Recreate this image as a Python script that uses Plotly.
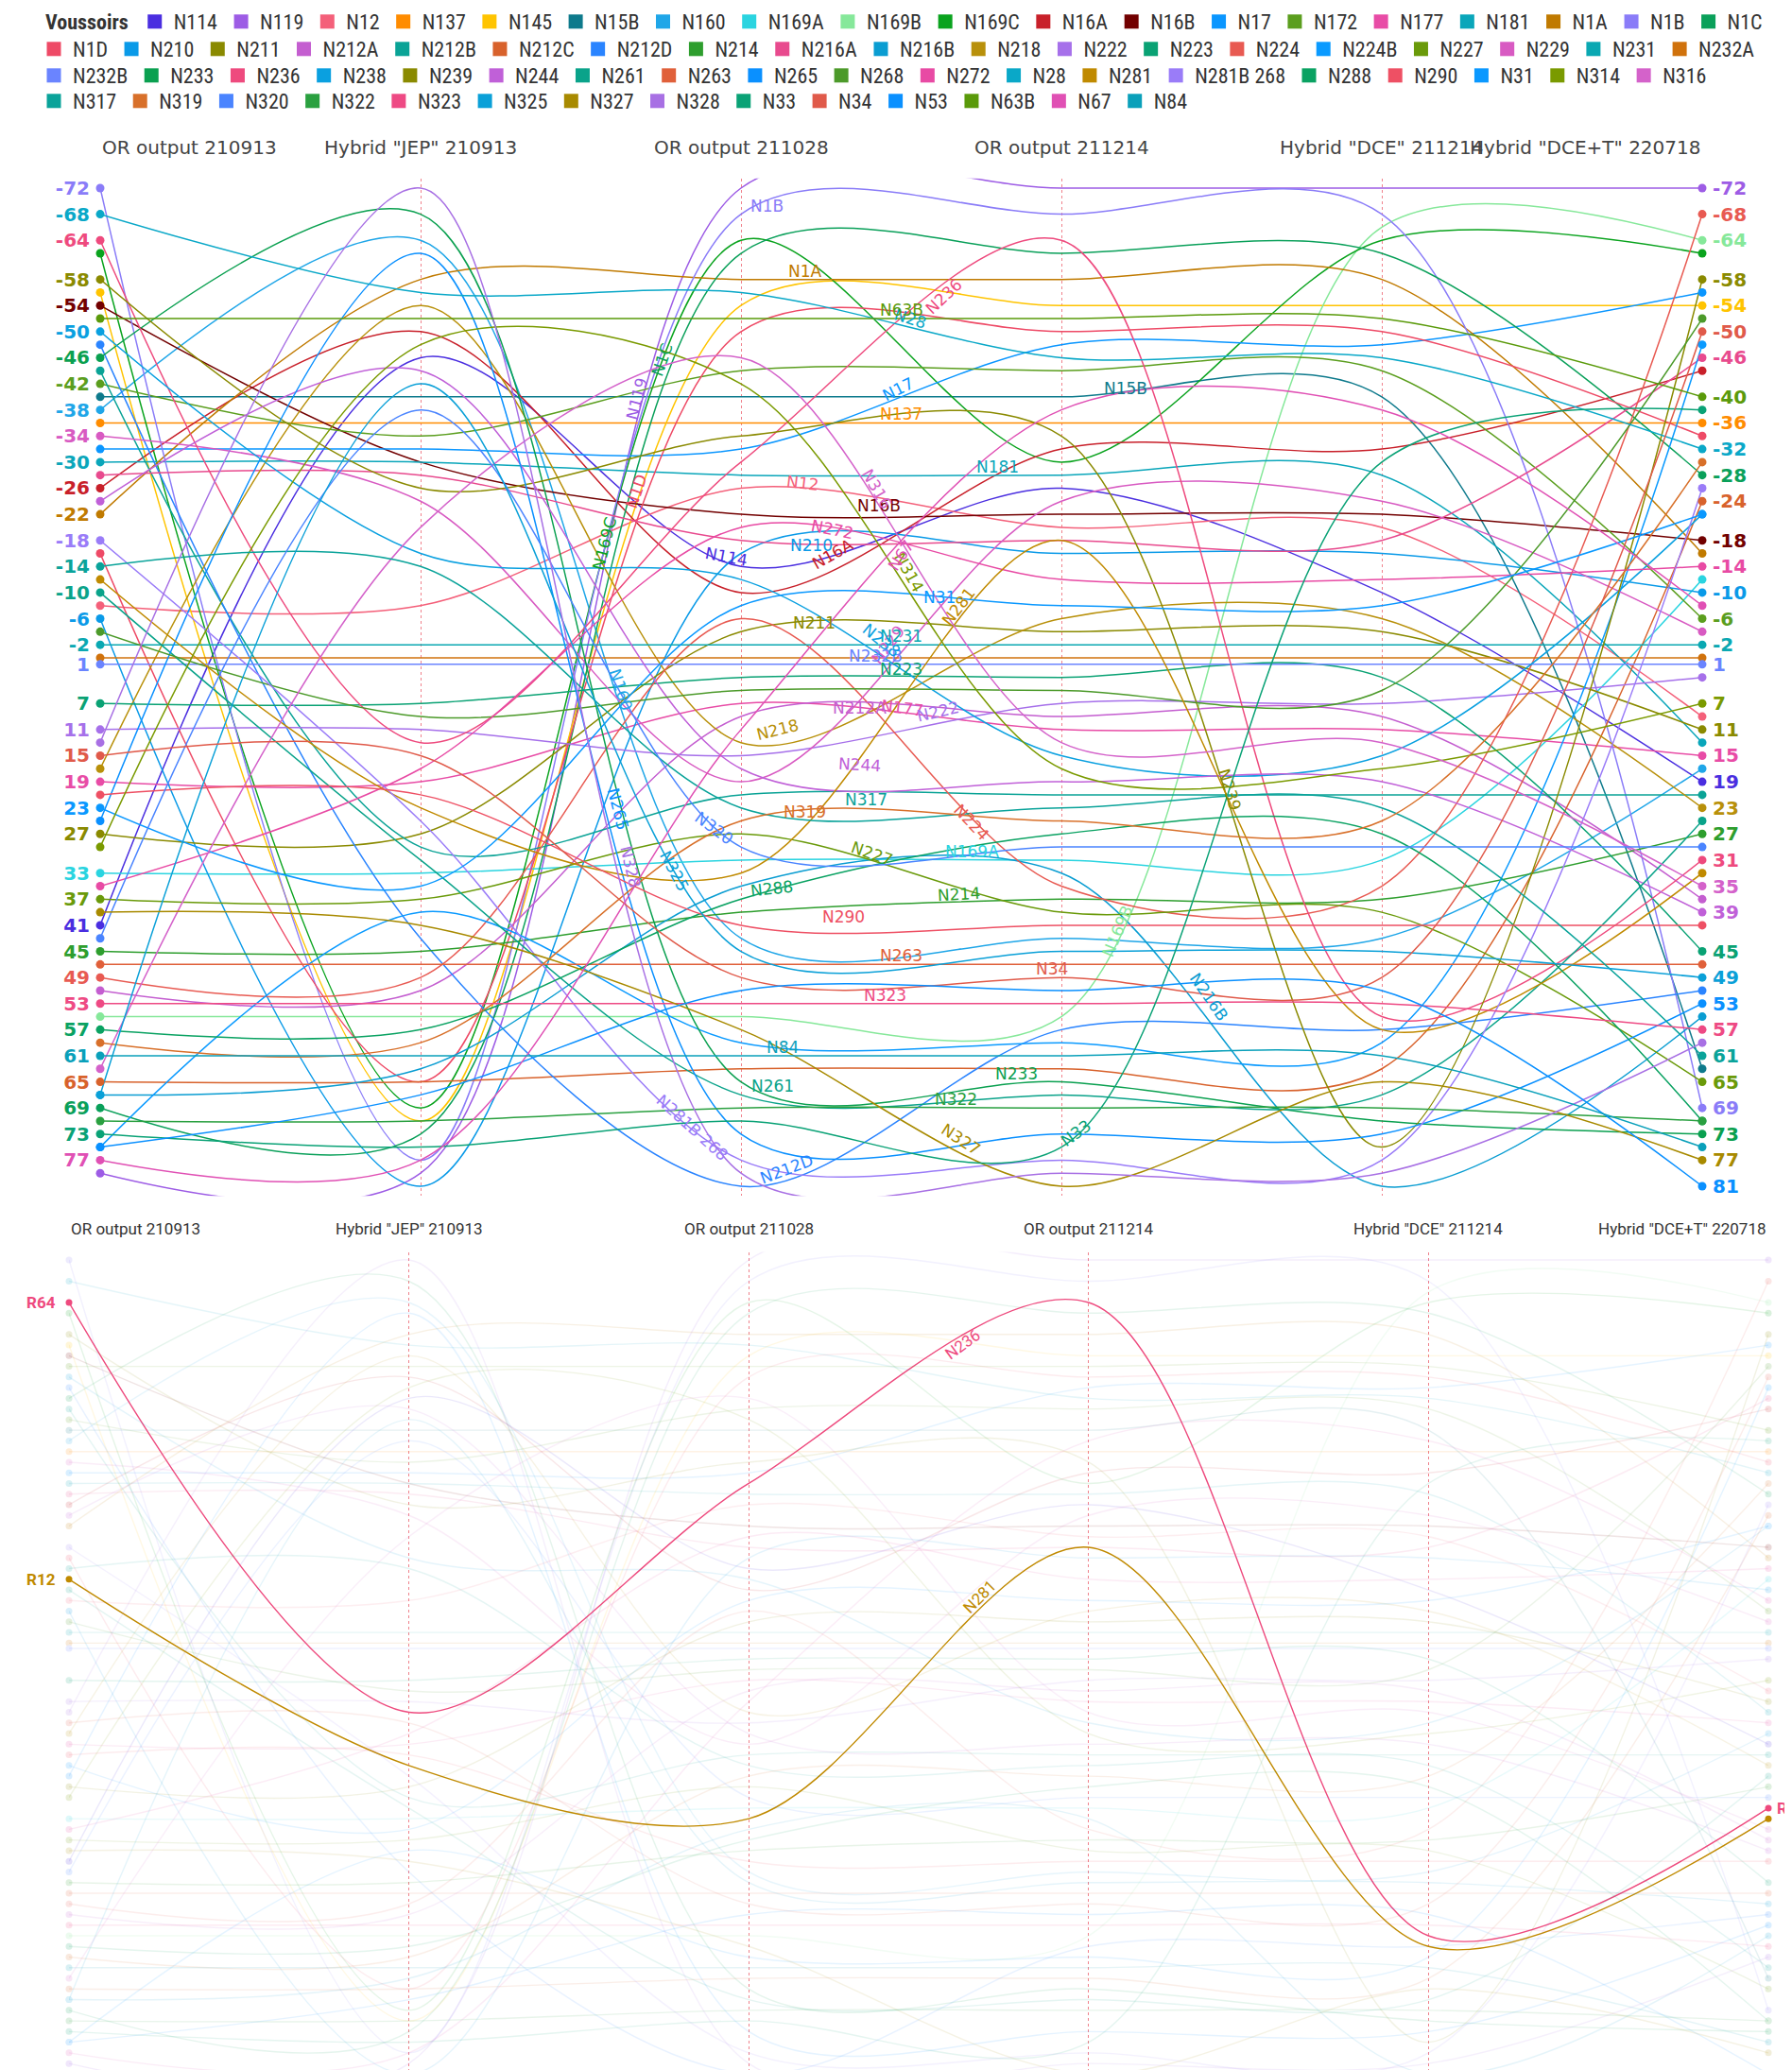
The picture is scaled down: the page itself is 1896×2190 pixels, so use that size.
import math
import plotly.graph_objects as go

W, H = 1896, 2190
OFF = 8  # the page body margin shifts the figure by this many pixels

STAGES = ["OR output 210913", 'Hybrid "JEP" 210913', "OR output 211028",
          "OR output 211214", 'Hybrid "DCE" 211214', 'Hybrid "DCE+T" 220718']

NAMES = ["N114", "N119", "N12", "N137", "N145", "N15B", "N160", "N169A", "N169B", "N169C",
         "N16A", "N16B", "N17", "N172", "N177", "N181", "N1A", "N1B", "N1C", "N1D",
         "N210", "N211", "N212A", "N212B", "N212C", "N212D", "N214", "N216A", "N216B", "N218",
         "N222", "N223", "N224", "N224B", "N227", "N229", "N231", "N232A", "N232B", "N233",
         "N236", "N238", "N239", "N244", "N261", "N263", "N265", "N268", "N272", "N28",
         "N281", "N281B 268", "N288", "N290", "N31", "N314", "N316", "N317", "N319", "N320",
         "N322", "N323", "N325", "N327", "N328", "N33", "N34", "N53", "N63B", "N67", "N84"]

COLORS = ["#4a2ee0", "#9d5ce5", "#f4607a", "#ff8c00", "#ffc400", "#0e7a8c", "#1fa6e8", "#2ad4e0", "#86e89a", "#0aa31e",
          "#c8202a", "#720000", "#0a96ff", "#5b9e1e", "#e84ca6", "#0aa6ba", "#c07a00", "#8a7cf8", "#0aa05a", "#ee4a66",
          "#0a9ae8", "#8a8a00", "#c45ed0", "#0aa396", "#d8622c", "#2a84ff", "#2e9e2e", "#e84a8e", "#0a9dd2", "#b8900a",
          "#a670ea", "#0aa274", "#e85a52", "#0a9aff", "#6a9a0a", "#d85ac2", "#0aa8b2", "#d0720c", "#6a84ff", "#0aa050",
          "#ee4a7e", "#0aa0e0", "#8a8a00", "#c060d8", "#0aa38a", "#e0603a", "#0a90ff", "#4c9a2a", "#e84aa4", "#0aa8c8",
          "#c08a00", "#9a7cf8", "#0aa262", "#ee5064", "#0a98ff", "#7a9a00", "#d462ca", "#0aa39a", "#d8702a", "#4a84ff",
          "#2aa040", "#ee4a84", "#0aa0d8", "#a88a00", "#a870e4", "#0aa276", "#e05a4a", "#0a90ff", "#5a9a0a", "#e050b4",
          "#0aa0ba"]

# voussoir position at each stage, same order as NAMES
OR_210913 = [41, 79, -8, -36, -56, -40, -38, 33, 55, -62,
             -26, -54, -32, -42, 19, -30, -22, -72, 69, -16,
             -6, 27, 51, -44, 65, -48, 45, -28, 67, 17,
             11, 7, 49, 75, 37, -34, -2, 0, 1, -46,
             -64, -50, -58, -24, -10, 47, 25, -4, 35, -68,
             -12, -18, 57, 21, 23, 29, 63, -14, 59, 43,
             71, 53, 67, 39, 13, 73, 15, 75, -52, 77,
             61]
JEP_210913 = [-46, 79, -8, -36, 71, -40, -64, 33, 55, 69,
              -50, -30, -32, -34, 19, -30, -58, 77, 73, 65,
              81, 27, 51, 29, 65, 43, 45, -28, 63, -54,
              11, 7, 49, 39, 37, -24, -2, 0, 1, -68,
              13, -16, -26, -44, 31, 47, -62, 9, 17, -56,
              23, 25, 57, 21, 35, -48, -20, -14, 59, -38,
              71, 53, -42, 41, -72, 75, 15, 67, -52, 77,
              61]
OR_211028 = [-14, -72, -26, -36, -54, -40, 43, 31, 55, -64,
             -10, -22, -32, -44, 7, -28, -58, -68, -62, -50,
             -16, -4, 9, 21, 63, 81, 39, -18, 35, 13,
             15, 3, -6, 59, 27, 19, -2, 0, 1, 65,
             -30, -12, -34, 17, 67, 47, 73, 5, -20, -56,
             33, 77, 37, 41, -8, -42, -46, 23, 25, 29,
             69, 53, 45, 57, 79, 71, 49, 51, -52, 11,
             61]
OR_211214 = [-26, -72, -20, -36, -54, -40, 43, 31, 55, -30,
             -32, -22, -48, -44, 11, -28, -58, -68, -62, -50,
             -16, -4, 9, 21, 63, 57, 37, -18, 33, -6,
             7, 3, 35, 59, 39, -24, -2, 0, 1, 65,
             -64, 15, -34, 19, 67, 47, 73, 5, -12, -46,
             -18, 77, 27, 41, -8, 17, 13, 23, 25, 29,
             69, 53, 45, 81, 79, 75, 49, 51, -52, -38,
             61]
DCE_211214 = [-10, -72, -20, -36, -54, -40, 43, 31, -66, -64,
              -32, -22, -48, -44, 11, -28, -58, -68, -62, -50,
              -16, -4, 9, 21, 63, 57, 37, -18, 81, -6,
              7, 3, 35, 59, 39, -24, -2, 0, 1, 71,
              55, 15, 75, 19, 67, 47, 73, 5, -12, -46,
              57, 77, 27, 41, -8, 17, 13, 23, 25, 29,
              69, 53, 45, 65, 79, -30, 49, 51, -52, -38,
              61]
DCET_220718 = [19, -72, 9, -36, -54, 63, 17, -12, -64, -62,
               -44, -18, -56, -6, 15, 13, -16, 69, -28, -34,
               -10, 11, 37, 21, -24, 51, 27, -46, 55, 23,
               3, 45, -68, -48, 65, -4, -2, 0, 1, 73,
               31, -22, -58, 39, 25, 47, 53, -52, -14, -32,
               33, -26, 71, 41, -22, 7, 35, 61, -30, 29,
               71, 57, 49, 77, 59, -38, -50, 81, -40, -8,
               75]

SERIES = [OR_210913, JEP_210913, OR_211028, OR_211214, DCE_211214, DCET_220718]
HIGHLIGHT = ["N236", "N281"]

# legend rows as laid out in the reference (count of entries per row)
LEGEND_ROWS = [19, 19, 19, 14]

# where each in-chart label sits: (segment start stage, fraction along segment)
LABEL_SPOTS = {
    "N1B": (2, 0.08), "N1A": (2, 0.2), "N236": (2, 0.65), "N63B": (2, 0.5), "N28": (2, 0.52),
    "N17": (2, 0.5), "N316": (2, 0.4), "N137": (2, 0.5), "N314": (2, 0.5), "N15B": (3, 0.2),
    "N181": (2, 0.8), "N16B": (2, 0.43), "N12": (2, 0.19), "N272": (2, 0.28), "N16A": (2, 0.3),
    "N210": (2, 0.22), "N114": (1, 0.95), "N119": (1, 0.7), "N1C": (1, 0.78), "N1D": (1, 0.7),
    "N169C": (1, 0.6), "N238": (2, 0.42), "N229": (2, 0.48), "N67": (2, 0.52), "N31": (2, 0.62),
    "N281": (2, 0.7), "N211": (2, 0.23), "N232B": (2, 0.42), "N231": (2, 0.5), "N223": (2, 0.5),
    "N224": (2, 0.7), "N218": (2, 0.12), "N212A": (2, 0.37), "N222": (2, 0.62), "N177": (2, 0.5),
    "N244": (2, 0.37), "N319": (2, 0.2), "N317": (2, 0.39), "N227": (2, 0.4), "N214": (2, 0.68),
    "N169A": (2, 0.72), "N290": (2, 0.32), "N263": (2, 0.5), "N34": (2, 0.97), "N323": (2, 0.45),
    "N288": (2, 0.1), "N84": (2, 0.13), "N261": (2, 0.1), "N322": (2, 0.67), "N327": (2, 0.67),
    "N33": (3, 0.06), "N233": (2, 0.86), "N216B": (3, 0.44), "N212D": (2, 0.15),
    "N281B 268": (1, 0.83), "N160": (1, 0.6), "N328": (1, 0.63), "N265": (1, 0.59),
    "N325": (1, 0.77), "N320": (1, 0.9), "N239": (3, 0.5), "N169B": (3, 0.2),
}

# pixel geometry of the two panels (screen pixels)
TOP_X0, TOP_X1, TOP_Y72, TOP_PXU = 106, 1801, 199, 6.902
BOT_X0, BOT_X1, BOT_Y72, BOT_PXU = 73, 1871, 1333, 5.63
PAD = 1.5

FONT = "DejaVu Sans, Verdana, sans-serif"
NARROW = "Liberation Sans Narrow, Roboto Condensed, Roboto, sans-serif"
PLAIN = "Roboto, Liberation Sans, sans-serif"
STAGE_X = list(range(len(STAGES)))


def px2paper(px):
    return (px - OFF) / W


def py2paper(py):
    return 1 - (py - OFF) / H


def values_of(i):
    return [s[i] for s in SERIES]


def along(vals, seg, t):
    a, b = vals[seg], vals[seg + 1]
    if a is None or b is None:
        return None, 0
    s = 3 * t * t - 2 * t ** 3
    return a + (b - a) * s, (b - a) * 6 * t * (1 - t)


def label_ticks(stage_vals, colors):
    pairs = sorted((v, c) for v, c in zip(stage_vals, colors) if v is not None)
    vals, texts, last = [], [], None
    for v, c in pairs:
        if last is None or v - last >= 3:
            vals.append(v)
            texts.append(f"<span style='color:{c}'>{v}</span>")
            last = v
    return vals, texts


fig = go.Figure()

# ---- top panel: all voussoirs ----
for i, name in enumerate(NAMES):
    fig.add_trace(go.Scatter(
        x=STAGE_X, y=values_of(i), mode="lines", name=name,
        line=dict(color=COLORS[i], width=1.5, shape="spline", smoothing=0.9),
        showlegend=False, hoverinfo="skip", xaxis="x", yaxis="y"))

for stage, yax in ((0, "y"), (5, "y3")):
    pts = [(SERIES[stage][i], COLORS[i]) for i in range(len(NAMES)) if SERIES[stage][i] is not None]
    fig.add_trace(go.Scatter(
        x=[stage] * len(pts), y=[p[0] for p in pts], mode="markers",
        marker=dict(color=[p[1] for p in pts], size=9), cliponaxis=False,
        showlegend=False, hoverinfo="skip", xaxis="x", yaxis=yax))

# ---- bottom panel: highlight view ----
for i, name in enumerate(NAMES):
    hot = name in HIGHLIGHT
    fig.add_trace(go.Scatter(
        x=STAGE_X, y=values_of(i), mode="lines",
        line=dict(color=COLORS[i], width=1.4, shape="spline", smoothing=0.9),
        opacity=1.0 if hot else 0.1, showlegend=False, hoverinfo="skip",
        xaxis="x2", yaxis="y2"))
for stage in (0, 5):
    for hot in (False, True):
        pts = [(SERIES[stage][i], COLORS[i]) for i in range(len(NAMES))
               if SERIES[stage][i] is not None and (NAMES[i] in HIGHLIGHT) == hot]
        fig.add_trace(go.Scatter(
            x=[stage] * len(pts), y=[p[0] for p in pts], mode="markers",
            marker=dict(color=[p[1] for p in pts], size=7), opacity=1.0 if hot else 0.15,
            cliponaxis=False, showlegend=False, hoverinfo="skip", xaxis="x2", yaxis="y2"))

# legend entries, one plotly legend per row so entries flow at their natural width
row_of = []
for r, n in enumerate(LEGEND_ROWS):
    row_of += [r] * n
for i, name in enumerate(NAMES):
    lg = "legend" if row_of[i] == 0 else f"legend{row_of[i] + 1}"
    fig.add_trace(go.Scatter(
        x=[None], y=[None], mode="markers", name=name, legend=lg,
        marker=dict(color=COLORS[i], symbol="square", size=15), showlegend=True))

annotations = []
top_col = (TOP_X1 - TOP_X0) / 5
bot_col = (BOT_X1 - BOT_X0) / 5

for i, name in enumerate(NAMES):
    if name not in LABEL_SPOTS:
        continue
    seg, t = LABEL_SPOTS[name]
    y, dv = along(values_of(i), seg, t)
    if y is None:
        continue
    ang = math.degrees(math.atan(dv * TOP_PXU / top_col))
    annotations.append(dict(
        x=seg + t, y=y, xref="x", yref="y", text=name, showarrow=False,
        textangle=ang, yshift=9 * math.cos(math.radians(ang)), xshift=9 * math.sin(math.radians(ang)),
        font=dict(family=FONT, size=17, color=COLORS[i])))
    if name in HIGHLIGHT:
        ang2 = math.degrees(math.atan(dv * BOT_PXU / bot_col))
        annotations.append(dict(
            x=seg + t - 0.02, y=y, xref="x2", yref="y2", text=name, showarrow=False,
            textangle=ang2, yshift=10, font=dict(family=PLAIN, size=17, color=COLORS[i])))

# stage titles
for k, title in enumerate(STAGES):
    anchor = "left" if k == 0 else ("right" if k == 5 else "center")
    annotations.append(dict(x=k, y=py2paper(156), xref="x", yref="paper", text=title,
                            showarrow=False, xanchor=anchor, yanchor="middle",
                            font=dict(family=FONT, size=20, color="#444")))
    annotations.append(dict(x=k, y=py2paper(1300), xref="x2", yref="paper", text=title,
                            showarrow=False, xanchor=anchor, yanchor="middle",
                            font=dict(family=PLAIN, size=17, color="#333")))

# highlight end labels on the bottom panel
for name in HIGHLIGHT:
    i = NAMES.index(name)
    first, last = SERIES[0][i], SERIES[5][i]
    annotations.append(dict(x=0, y=first, xref="x2", yref="y2", text=f"<b>R{abs(first)}</b>",
                            showarrow=False, xanchor="right", xshift=-12,
                            font=dict(family=PLAIN, size=17, color=COLORS[i])))
    if name == HIGHLIGHT[0]:
        annotations.append(dict(x=5, y=last, xref="x2", yref="y2", text=f"<b>R{abs(last)}</b>",
                                showarrow=False, xanchor="left", xshift=7,
                                font=dict(family=PLAIN, size=17, color=COLORS[i])))

left_vals, left_text = label_ticks(SERIES[0], COLORS)
right_vals, right_text = label_ticks(SERIES[5], COLORS)

top_range = [82.5, -72 - PAD]
top_dom = [py2paper(TOP_Y72 + (82.5 + 72) * TOP_PXU), py2paper(TOP_Y72 - PAD * TOP_PXU)]
bot_low = -72 + (H + OFF - BOT_Y72) / BOT_PXU
bot_range = [bot_low, -72 - PAD]
bot_dom = [0, py2paper(BOT_Y72 - PAD * BOT_PXU)]

grid = dict(range=[0, 5], tickvals=STAGE_X, showticklabels=False, showgrid=True,
            gridcolor="#f0828c", griddash="dot", gridwidth=1, zeroline=False, showline=False, ticks="")
tickfont = dict(family=FONT, size=20, weight="bold")

legend_base = dict(orientation="h", xanchor="left", yanchor="middle",
                   font=dict(family=NARROW, size=22, color="#333"), itemsizing="trace",
                   itemwidth=30, tracegroupgap=0, bgcolor="rgba(0,0,0,0)")
row_centers = [23, 52, 80, 107]
legends = {}
for r, cy in enumerate(row_centers):
    key = "legend" if r == 0 else f"legend{r + 1}"
    spec = dict(legend_base, x=px2paper(46 if r == 0 else 37), y=py2paper(cy))
    if r == 0:
        spec["title"] = dict(text="<b>Voussoirs</b>", side="left",
                             font=dict(family=NARROW, size=22, color="#333"))
    legends[key] = spec

fig.update_layout(
    width=W, height=H, margin=dict(l=0, r=0, t=0, b=0, autoexpand=False),
    paper_bgcolor="white", plot_bgcolor="white",
    xaxis=dict(domain=[px2paper(TOP_X0), px2paper(TOP_X1)], anchor="y", **grid),
    yaxis=dict(domain=top_dom, range=top_range, anchor="x", tickvals=left_vals, ticktext=left_text,
               showgrid=False, zeroline=False, ticks="", ticklabelstandoff=10, tickfont=tickfont),
    yaxis3=dict(overlaying="y", side="right", anchor="x", range=top_range, tickvals=right_vals,
                ticktext=right_text, showgrid=False, zeroline=False, ticks="", ticklabelstandoff=10,
                tickfont=tickfont),
    xaxis2=dict(domain=[px2paper(BOT_X0), px2paper(BOT_X1)], anchor="y2", **grid),
    yaxis2=dict(domain=bot_dom, range=bot_range, anchor="x2", showticklabels=False,
                showgrid=False, zeroline=False, ticks=""),
    annotations=annotations,
    showlegend=True,
    **legends,
)

fig.write_html("out.html")
